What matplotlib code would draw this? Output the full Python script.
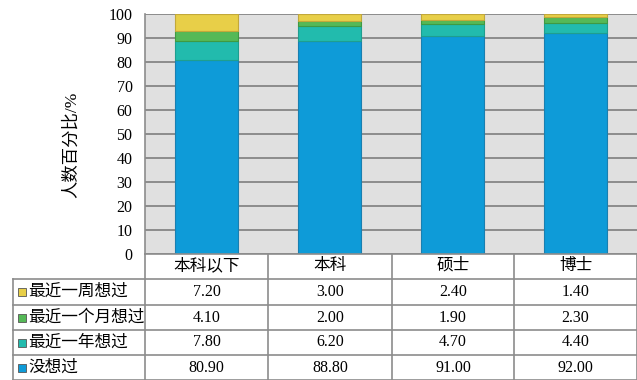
import matplotlib.pyplot as plt
import numpy as np

plt.rcParams['font.family'] = ['Liberation Serif', 'Noto Sans CJK SC']

categories = ['本科以下', '本科', '硕士', '博士']
never = [80.90, 88.80, 91.00, 92.00]
last_year = [7.80, 6.20, 4.70, 4.40]
last_month = [4.10, 2.00, 1.90, 2.30]
last_week = [7.20, 3.00, 2.40, 1.40]
series_names = ['没想过', '最近一年想过', '最近一个月想过', '最近一周想过']
series_colors = ['#0e9bd8', '#22bbad', '#55b957', '#e8cf48']
edge_colors = ['#1a7fb0', '#1f9e8f', '#3f9a42', '#c2a83a']
yticks = [0, 10, 20, 30, 40, 50, 60, 70, 80, 90, 100]

W, H = 637, 380
fig = plt.figure(figsize=(W / 100, H / 100), dpi=100)
ax = fig.add_axes([145 / W, (H - 254) / H, 492 / W, 240 / H])
ax.set_facecolor('#e0e0e0')

x = np.arange(len(categories))
series = [never, last_year, last_month, last_week]
bottom = np.zeros(len(categories))
for vals, c, ec in zip(series, series_colors, edge_colors):
    ax.bar(x, vals, width=0.51, bottom=bottom, color=c, edgecolor=ec, linewidth=0.8, zorder=3)
    bottom += np.array(vals)

ax.set_xlim(-0.5, 3.5)
ax.set_ylim(0, 100)
ax.set_yticks(yticks)
ax.set_yticklabels([str(t) for t in yticks], fontsize=11.5)
ax.tick_params(axis='y', length=0, pad=9)
ax.set_xticks([])
ax.grid(axis='y', color='#8c8c8c', linewidth=1.4, zorder=1)
for s in ['top', 'right', 'bottom']:
    ax.spines[s].set_visible(False)
ax.spines['left'].set_color('#8c8c8c')
ax.spines['left'].set_linewidth(1.2)

fig.text(72 / W, 1 - 145 / H, '人数百分比/%', rotation=90, fontsize=12.5,
         ha='center', va='center')


def fx(px):
    return px / W


def fy(py):
    return 1 - py / H


line_kw = dict(color='#8c8c8c', linewidth=1.2, transform=fig.transFigure)

# table grid
col_edges = [145, 268, 392, 514, 637]
row_edges = [254, 279, 305, 330, 355, 380]
fig.add_artist(plt.Line2D([fx(145), fx(637)], [fy(254), fy(254)], **line_kw))
for r in row_edges[1:]:
    fig.add_artist(plt.Line2D([fx(13), fx(637)], [fy(r), fy(r)], **line_kw))
for c in col_edges:
    fig.add_artist(plt.Line2D([fx(c), fx(c)], [fy(254), fy(380)], **line_kw))
fig.add_artist(plt.Line2D([fx(13), fx(13)], [fy(279), fy(380)], **line_kw))

# header
for i, cat in enumerate(categories):
    cx = (col_edges[i] + col_edges[i + 1]) / 2
    fig.text(fx(cx), fy(266), cat, fontsize=12, ha='center', va='center')

# rows, top to bottom
rows = [(3, last_week), (2, last_month), (1, last_year), (0, never)]
for k, (si, vals) in enumerate(rows):
    top, bot = row_edges[k + 1], row_edges[k + 2]
    cy = (top + bot) / 2
    fig.add_artist(plt.Rectangle((fx(18), fy(cy + 4)), 8 / W, 8 / H,
                                 facecolor=series_colors[si], edgecolor='#555555',
                                 linewidth=0.6, transform=fig.transFigure))
    fig.text(fx(28), fy(cy), series_names[si], fontsize=12, ha='left', va='center')
    for i, v in enumerate(vals):
        cx = (col_edges[i] + col_edges[i + 1]) / 2
        fig.text(fx(cx), fy(cy), f'{v:.2f}', fontsize=11.5, ha='center', va='center')

fig.savefig('out.png', dpi=100)
